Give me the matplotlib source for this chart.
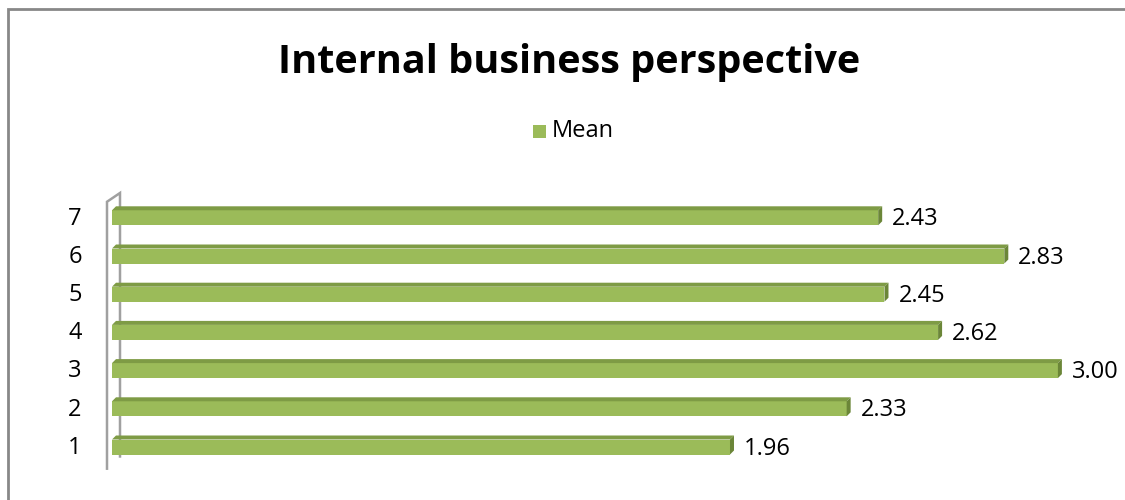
import matplotlib
matplotlib.use("Agg")
import matplotlib.pyplot as plt
from matplotlib.patches import Polygon, Rectangle

# data
categories = ["1", "2", "3", "4", "5", "6", "7"]
means = [1.96, 2.33, 3.00, 2.62, 2.45, 2.83, 2.43]
value_labels = ["1.96", "2.33", "3.00", "2.62", "2.45", "2.83", "2.43"]
series_name = "Mean"
title = "Internal business perspective"

W, H = 1125, 500
front = "#9BBB59"
top_c = "#7E9B45"
side_c = "#6B8638"
wall_c = "#A0A0A0"

fig = plt.figure(figsize=(W / 100, H / 100), dpi=100)
plt.rcParams['font.family'] = ['Open Sans', 'DejaVu Sans']

# axes over whole figure; pixel mapping: x_px = 112 + v*315.3, y_px = 447 - i*38.2
px_per_unit = 315.3
x0_px = 112
row_px = 38.2
y0_px = 447
ax = fig.add_axes([0, 0, 1, 1])
ax.set_xlim(-x0_px / px_per_unit, (W - x0_px) / px_per_unit)
ax.set_ylim(-(H - y0_px) / row_px, y0_px / row_px)
ax.axis("off")

# depth offsets in data units
dx = 4 / px_per_unit
dy = 4 / row_px
bh = 15 / row_px

# back wall outline
n = len(categories)
wx_out = -5 / px_per_unit
wx_in = 8 / px_per_unit
wall = Polygon([(wx_out, -0.6), (wx_out, n - 1 + 0.42),
                (wx_in, n - 1 + 0.65), (wx_in, -0.28), (wx_out, -0.6)],
               closed=False, fill=False, edgecolor=wall_c, lw=1.8, zorder=1)
ax.add_patch(wall)

ys = list(range(n))
ax.barh(ys, means, height=bh, left=0, color=front, edgecolor="none", zorder=3)
for y, v, lab in zip(ys, means, value_labels):
    yt = y + bh / 2
    yb = y - bh / 2
    ax.add_patch(Polygon([(0, yt), (dx, yt + dy), (v + dx, yt + dy), (v, yt)],
                         closed=True, facecolor=top_c, edgecolor="none", zorder=3))
    ax.add_patch(Polygon([(v, yb), (v, yt), (v + dx, yt + dy), (v + dx, yb + dy)],
                         closed=True, facecolor=side_c, edgecolor="none", zorder=3))
    ax.text(v + 14 / px_per_unit, y - 0.04, lab, fontsize=17, ha="left", va="center", color="black")

for y, c in zip(ys, categories):
    ax.text(-37 / px_per_unit, y - 0.02, c, fontsize=17, ha="center", va="center", color="black")

# title and legend (figure pixel coordinates)
fig.text(569 / W, 1 - 63 / H, title, fontsize=28.5, fontweight="bold", ha="center", va="center")
fig.patches.append(Rectangle((533 / W, 1 - 138 / H), 13 / W, 13 / H, transform=fig.transFigure,
                             facecolor=front, edgecolor="none"))
fig.text(552 / W, 1 - 131 / H, series_name, fontsize=17, ha="left", va="center")

# chart border
fig.patches.append(Rectangle((8 / W, -0.1), 1.2, 1 - 8.5 / H + 0.1, transform=fig.transFigure,
                             fill=False, edgecolor="#888888", lw=2))

fig.savefig("out.png", dpi=100)
